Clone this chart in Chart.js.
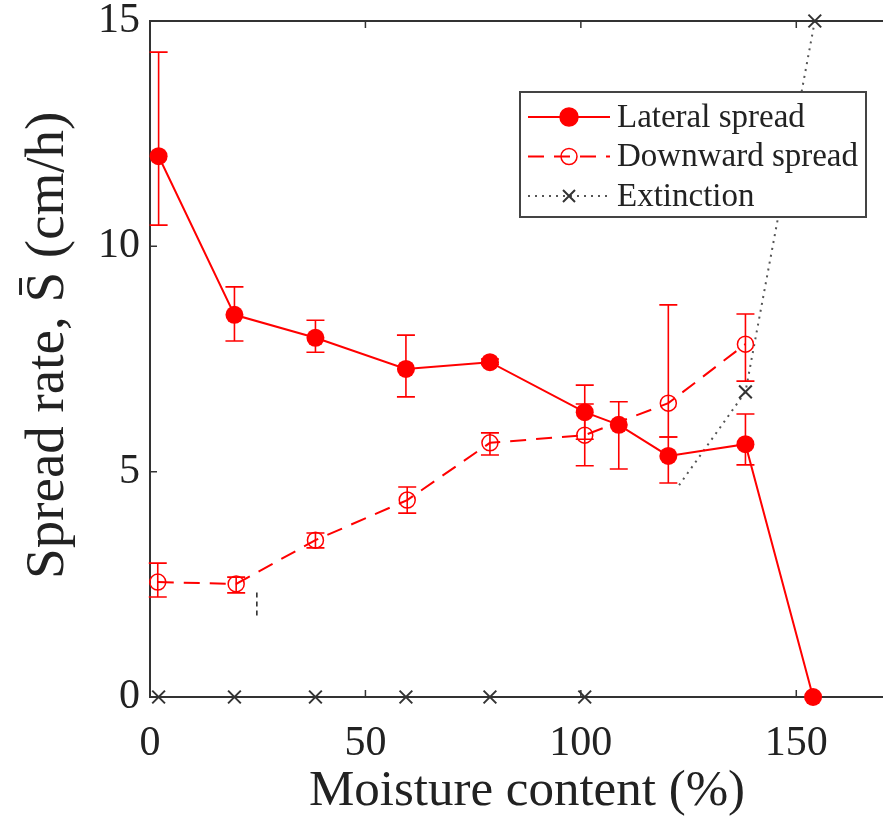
<!DOCTYPE html>
<html>
<head>
<meta charset="utf-8">
<script src="https://cdn.jsdelivr.net/npm/chart.js@4.4.1/dist/chart.umd.min.js"></script>
<style>
  html, body { margin: 0; padding: 0; background: #fff; overflow: hidden; }
  #wrap { width: 883px; height: 822px; overflow: hidden; }
</style>
</head>
<body>
<div id="wrap"><canvas id="spread" width="915" height="822"></canvas></div>
<script>
// moisture content (%) and mean spread rate (cm/h)
const lateralX    = [2, 19.6, 38.4, 59.4, 78.9, 100.9, 108.8, 120.3, 138.2, 153.9];
const lateralY    = [12.0, 8.48, 7.97, 7.28, 7.43, 6.32, 6.04, 5.35, 5.61, 0];
const lateralLow  = [10.47, 7.90, 7.65, 6.66, 7.38, 5.72, 5.06, 4.75, 5.15, null];
const lateralHigh = [14.31, 9.10, 8.36, 8.03, 7.50, 6.92, 6.55, 5.77, 6.28, null];

const downwardX    = [1.8, 20, 38.4, 59.7, 78.9, 100.9, 120.3, 138.2];
const downwardY    = [2.55, 2.51, 3.48, 4.37, 5.64, 5.81, 6.52, 7.83];
const downwardLow  = [2.22, 2.31, 3.31, 4.08, 5.37, 5.13, 5.77, 7.01];
const downwardHigh = [2.97, 2.66, 3.64, 4.66, 5.86, 6.50, 8.70, 8.50];

// extinction boundary (first vertex has no marker) and the zero-rate cases
const extinctionX = [122.8, 138.2, 154.3];
const extinctionY = [4.7, 6.77, 15];
const zeroRateX   = [2, 19.6, 38.4, 59.4, 78.9, 100.9];
const strayX      = [24.8, 24.8];
const strayY      = [1.81, 2.35];

const xTicksStep = 50;
const yTicksStep = 5;

const RED = '#ff0000';
const DARK = '#333333';
const SERIF = "'Liberation Serif', 'DejaVu Serif', serif";
const CAP = 9;

const pts = (xs, ys) => xs.map((v, i) => ({ x: v, y: ys[i] }));

const errorBars = {
  id: 'errorBars',
  afterDatasetsDraw(chart) {
    const { ctx, scales: { x, y } } = chart;
    chart.data.datasets.forEach(ds => {
      if (!ds.errLow) return;
      ctx.save();
      ctx.strokeStyle = ds.borderColor;
      ctx.lineWidth = 1.6;
      ds.data.forEach((p, j) => {
        const lo = ds.errLow[j], hi = ds.errHigh[j];
        if (lo == null) return;
        const px = x.getPixelForValue(p.x);
        const yl = y.getPixelForValue(lo), yh = y.getPixelForValue(hi);
        ctx.beginPath();
        ctx.moveTo(px, yl); ctx.lineTo(px, yh);
        ctx.moveTo(px - CAP, yl); ctx.lineTo(px + CAP, yl);
        ctx.moveTo(px - CAP, yh); ctx.lineTo(px + CAP, yh);
        ctx.stroke();
      });
      ctx.restore();
    });
  }
};

// box around the axes with inward ticks on every side
const frame = {
  id: 'frame',
  beforeDatasetsDraw(chart) {
    const { ctx, chartArea: a, scales: { x, y } } = chart;
    ctx.save();
    ctx.strokeStyle = DARK;
    ctx.lineWidth = 2;
    ctx.strokeRect(a.left, a.top, a.right - a.left, a.bottom - a.top);
    ctx.lineWidth = 1.5;
    ctx.beginPath();
    x.ticks.forEach(t => {
      const px = x.getPixelForValue(t.value);
      ctx.moveTo(px, a.bottom); ctx.lineTo(px, a.bottom - 7);
      ctx.moveTo(px, a.top); ctx.lineTo(px, a.top + 7);
    });
    y.ticks.forEach(t => {
      const py = y.getPixelForValue(t.value);
      ctx.moveTo(a.left, py); ctx.lineTo(a.left + 7, py);
      ctx.moveTo(a.right, py); ctx.lineTo(a.right - 7, py);
    });
    ctx.stroke();
    ctx.restore();
  }
};

function marker(ctx, ds, cx, cy) {
  ctx.save();
  ctx.setLineDash([]);
  ctx.lineWidth = ds.pointBorderWidth || 1.5;
  ctx.strokeStyle = ds.pointBorderColor || ds.borderColor;
  ctx.fillStyle = ds.pointBackgroundColor;
  const r = ds.legendRadius;
  if (ds.pointStyle === 'crossRot') {
    ctx.beginPath();
    ctx.moveTo(cx - r, cy - r); ctx.lineTo(cx + r, cy + r);
    ctx.moveTo(cx - r, cy + r); ctx.lineTo(cx + r, cy - r);
    ctx.stroke();
  } else {
    ctx.beginPath();
    ctx.arc(cx, cy, r, 0, Math.PI * 2);
    ctx.fill();
    if (ctx.lineWidth > 0) ctx.stroke();
  }
  ctx.restore();
}

const boxLegend = {
  id: 'boxLegend',
  afterDraw(chart) {
    const { ctx, chartArea: a } = chart;
    const left = a.left + 370, top = a.top + 71, w = 346, h = 125;
    ctx.save();
    ctx.fillStyle = '#fff';
    ctx.fillRect(left, top, w, h);
    ctx.strokeStyle = '#444';
    ctx.lineWidth = 2;
    ctx.strokeRect(left, top, w, h);
    const rows = chart.data.datasets.filter(ds => ds.inLegend);
    rows.forEach((ds, i) => {
      const cy = top + 25 + i * 39.5;
      ctx.strokeStyle = ds.borderColor;
      ctx.lineWidth = ds.borderWidth;
      ctx.setLineDash(ds.borderDash || []);
      ctx.beginPath();
      ctx.moveTo(left + 8, cy); ctx.lineTo(left + 90, cy);
      ctx.stroke();
      ctx.setLineDash([]);
      marker(ctx, ds, left + 49, cy);
      ctx.fillStyle = '#222';
      ctx.font = '33px ' + SERIF;
      ctx.textBaseline = 'middle';
      ctx.fillText(ds.label, left + 97, cy + 1);
    });
    ctx.restore();
  }
};

new Chart(document.getElementById('spread'), {
  type: 'line',
  data: {
    datasets: [
      {
        label: 'Lateral spread',
        inLegend: true,
        data: pts(lateralX, lateralY),
        errLow: lateralLow, errHigh: lateralHigh,
        borderColor: RED, borderWidth: 2,
        pointStyle: 'circle', pointRadius: 9, legendRadius: 9,
        pointBackgroundColor: RED, pointBorderWidth: 0,
        clip: false
      },
      {
        label: 'Downward spread',
        inLegend: true,
        data: pts(downwardX, downwardY),
        errLow: downwardLow, errHigh: downwardHigh,
        borderColor: RED, borderWidth: 2, borderDash: [16, 10],
        pointStyle: 'circle', pointRadius: 8, legendRadius: 8,
        pointBackgroundColor: 'rgba(0,0,0,0)', pointBorderWidth: 1.5,
        clip: false
      },
      {
        label: 'Extinction',
        inLegend: true,
        data: pts(extinctionX, extinctionY),
        borderColor: '#555', borderWidth: 2, borderDash: [2, 5],
        pointStyle: 'crossRot', pointRadius: [0, 9, 9], legendRadius: 6,
        pointBorderColor: DARK, pointBorderWidth: 2,
        pointBackgroundColor: DARK,
        clip: false
      },
      {
        label: 'Extinction (zero rate)',
        data: zeroRateX.map(v => ({ x: v, y: 0 })),
        showLine: false,
        borderColor: DARK,
        pointStyle: 'crossRot', pointRadius: 9, pointBorderWidth: 2,
        clip: false
      },
      {
        label: 'stray',
        data: pts(strayX, strayY),
        borderColor: '#222', borderWidth: 1.5, borderDash: [5, 4],
        pointRadius: 0
      }
    ]
  },
  options: {
    responsive: false,
    animation: false,
    layout: { padding: { top: 21, right: 4, left: 0, bottom: 0 } },
    plugins: { legend: { display: false }, tooltip: { enabled: false } },
    scales: {
      x: {
        type: 'linear', min: 0, max: 175,
        grid: { display: false, drawTicks: false },
        border: { display: false },
        ticks: {
          stepSize: xTicksStep, includeBounds: false, autoSkip: false, maxRotation: 0,
          padding: 22, color: '#222', font: { family: SERIF, size: 42 }
        },
        title: {
          display: true, text: 'Moisture content (%)', color: '#222',
          font: { family: SERIF, size: 51 }, padding: { top: 0, bottom: 0 }
        },
        afterFit(scale) {
          scale.height = 125;
          scale.paddingLeft = 0;
          scale.paddingRight = 0;
        }
      },
      y: {
        type: 'linear', min: 0, max: 15,
        grid: { display: false, drawTicks: false },
        border: { display: false },
        ticks: {
          stepSize: yTicksStep, includeBounds: false,
          padding: 10, color: '#222', font: { family: SERIF, size: 42 }
        },
        title: {
          display: true, text: '\u2002Spread rate, S\u0304 (cm/h)', color: '#222',
          font: { family: SERIF, size: 55 }, padding: { top: 16, bottom: 0 }
        },
        afterFit(scale) {
          scale.width = 150;
          scale.paddingTop = 0;
          scale.paddingBottom = 0;
        }
      }
    }
  },
  plugins: [frame, errorBars, boxLegend]
});
</script>
</body>
</html>
